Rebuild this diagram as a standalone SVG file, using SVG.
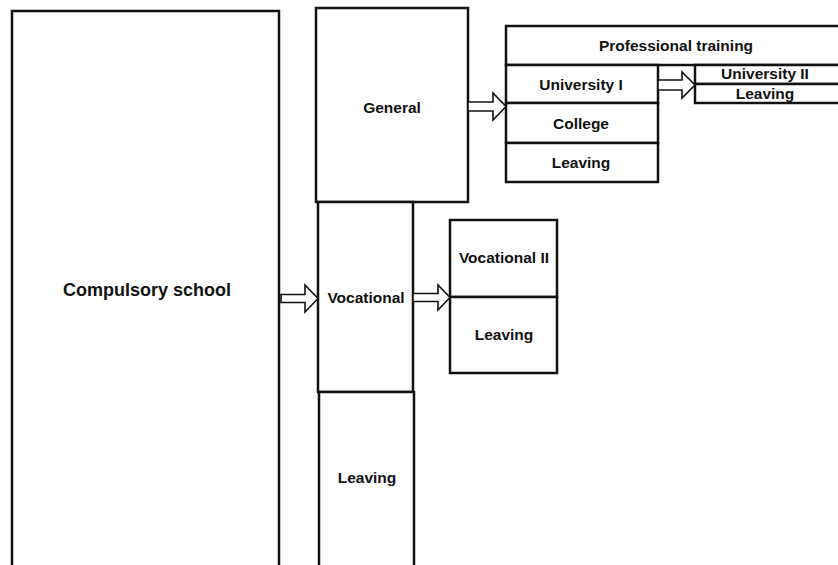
<svg xmlns="http://www.w3.org/2000/svg" width="838" height="565" viewBox="0 0 838 565">
<style>
.box{fill:#fff;stroke:#111;stroke-width:2.5}
.arr{fill:#fff;stroke:#111;stroke-width:1.6;stroke-linejoin:miter}
text{font-family:"Liberation Sans",Arial,sans-serif;font-weight:bold;fill:#111;text-anchor:middle}
.t{font-size:15.5px}
.big{font-size:18px}
</style>
<rect width="838" height="565" fill="#fff"/>
<g id="compulsory">
<rect class="box" x="12" y="11" width="267" height="560"/>
<text class="big" x="147" y="296">Compulsory school</text>
</g>
<g id="general">
<rect class="box" x="316" y="8" width="152" height="194"/>
<text class="t" x="392" y="113">General</text>
</g>
<g id="vocational">
<rect class="box" x="318" y="202" width="95" height="190"/>
<text class="t" x="366" y="303">Vocational</text>
</g>
<g id="leaving1">
<rect class="box" x="319" y="392" width="95" height="180"/>
<text class="t" x="367" y="483">Leaving</text>
</g>
<g id="vocational2">
<rect class="box" x="450" y="220" width="107" height="77"/>
<text class="t" x="504" y="263">Vocational II</text>
</g>
<g id="leaving2">
<rect class="box" x="450" y="297" width="107" height="76"/>
<text class="t" x="504" y="340">Leaving</text>
</g>
<g id="professional">
<rect class="box" x="506" y="26" width="340" height="39"/>
<text class="t" x="676" y="51">Professional training</text>
</g>
<g id="university1">
<rect class="box" x="506" y="65" width="152" height="38"/>
<text class="t" x="581" y="90">University I</text>
</g>
<g id="college">
<rect class="box" x="506" y="103" width="152" height="40"/>
<text class="t" x="581" y="129">College</text>
</g>
<g id="leaving3">
<rect class="box" x="506" y="143" width="152" height="39"/>
<text class="t" x="581" y="168">Leaving</text>
</g>
<g id="university2">
<rect class="box" x="695" y="65" width="150" height="19"/>
<text class="t" x="765" y="79">University II</text>
</g>
<g id="leaving4">
<rect class="box" x="695" y="84" width="150" height="19"/>
<text class="t" x="765" y="99">Leaving</text>
</g>
<g id="connectors">
<polygon class="arr" points="281,294.5 305,294.5 305,285 318,298.5 305,312 305,302.5 281,302.5"/>
<polygon class="arr" points="413,293.5 438,293.5 438,285 450,297.5 438,310 438,301.5 413,301.5"/>
<polygon class="arr" points="468,102 493,102 493,93 506,106.5 493,120 493,111 468,111"/>
<polygon class="arr" points="658,80 682,80 682,72 695,85 682,98 682,90 658,90"/>
</g>
</svg>
